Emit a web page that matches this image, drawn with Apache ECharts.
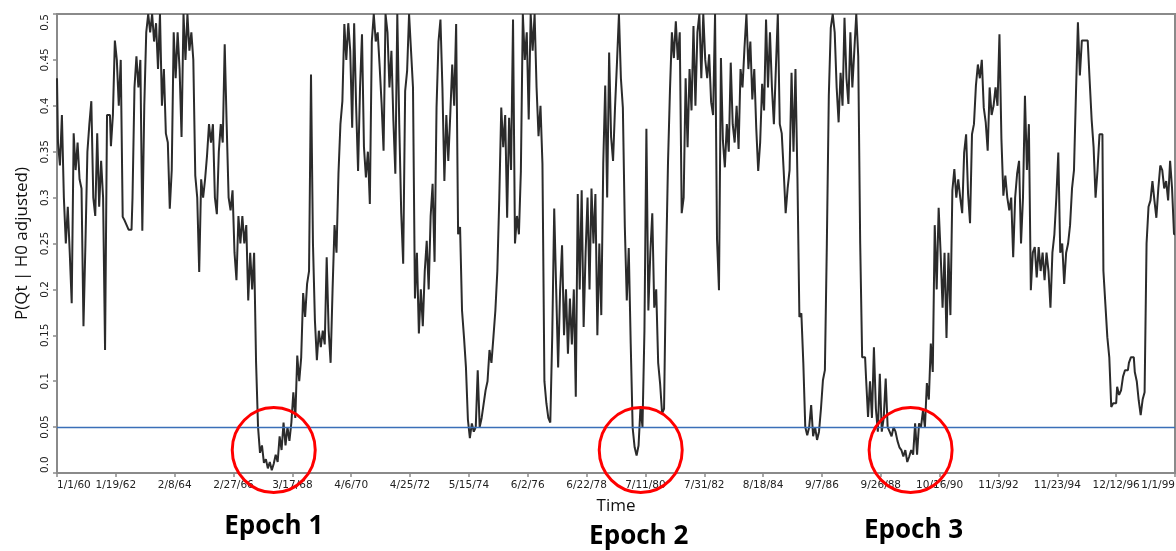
<!DOCTYPE html>
<html><head><meta charset="utf-8">
<script src="https://cdn.jsdelivr.net/npm/echarts@6/dist/echarts.min.js"></script>
<style>html,body{margin:0;padding:0;background:#fff}#c{width:1176px;height:551px}</style>
</head><body><div id="c"></div>
<script>
// ---- data ----
const xTickLabels = ['1/1/60','1/19/62','2/8/64','2/27/66','3/17/68','4/6/70','4/25/72','5/15/74','6/2/76','6/22/78',
  '7/11/80','7/31/82','8/18/84','9/7/86','9/26/88','10/16/90','11/3/92','11/23/94','12/12/96','1/1/99'];
const yTickLabels = ['0.0','0.05','0.1','0.15','0.2','0.25','0.3','0.35','0.4','0.45','0.5'];
const pointsPerTick = 30;
const pValues = [
  // 1/1/60 - 1/19/62
  0.43,0.36, 0.335,0.39, 0.30,0.25, 0.29,0.24, 0.185,0.37, 0.33,0.36, 0.32,0.31, 0.16,0.25,
  0.35,0.38, 0.405,0.30, 0.28,0.37, 0.29,0.34, 0.30,0.134, 0.39,0.39, 0.356,0.39,
  // 1/19/62 - 2/8/64
  0.471,0.45, 0.40,0.45, 0.279,0.275, 0.27,0.265, 0.265,0.30, 0.42,0.454, 0.42,0.45, 0.264,0.40,
  0.48,0.50, 0.48,0.50, 0.47,0.49, 0.44,0.50, 0.40,0.44, 0.37,0.36, 0.288,0.33,
  // 2/8/64 - 2/27/66
  0.48,0.43, 0.48,0.44, 0.366,0.50, 0.45,0.50, 0.46,0.48, 0.45,0.324, 0.30,0.219, 0.32,0.30,
  0.32,0.346, 0.38,0.36, 0.38,0.30, 0.282,0.35, 0.38,0.36, 0.467,0.38, 0.30,0.286,
  // 2/27/66 - 3/17/68
  0.308,0.24, 0.21,0.28, 0.25,0.28, 0.25,0.27, 0.188,0.24, 0.20,0.24, 0.12,0.05, 0.022,0.03,
  0.011,0.015, 0.005,0.012, 0.003,0.01, 0.02,0.012, 0.04,0.025, 0.055,0.03, 0.05,0.035,
  // 3/17/68 - 4/6/70
  0.055,0.088, 0.06,0.128, 0.10,0.126, 0.196,0.17, 0.206,0.22, 0.434,0.25, 0.166,0.123, 0.155,0.137,
  0.155,0.14, 0.235,0.155, 0.12,0.20, 0.27,0.24, 0.326,0.38, 0.405,0.489, 0.45,0.49,
  // 4/6/70 - 4/25/72
  0.46,0.376, 0.49,0.40, 0.329,0.42, 0.478,0.355, 0.322,0.35, 0.293,0.47, 0.50,0.47, 0.48,0.443,
  0.402,0.351, 0.50,0.48, 0.42,0.46, 0.384,0.326, 0.50,0.38, 0.283,0.228, 0.416,0.438,
  // 4/25/72 - 5/15/74
  0.50,0.46, 0.42,0.19, 0.24,0.152, 0.20,0.16, 0.22,0.253, 0.20,0.28, 0.315,0.23, 0.398,0.47,
  0.494,0.42, 0.318,0.39, 0.34,0.39, 0.445,0.40, 0.489,0.26, 0.268,0.177, 0.148,0.115,
  // 5/15/74 - 6/2/76
  0.058,0.038, 0.054,0.045, 0.05,0.112, 0.05,0.06, 0.075,0.09, 0.10,0.134, 0.12,0.148, 0.177,0.22,
  0.30,0.398, 0.355,0.39, 0.278,0.387, 0.33,0.494, 0.25,0.28, 0.26,0.329, 0.50,0.45,
  // 6/2/76 - 6/22/78
  0.48,0.385, 0.50,0.46, 0.50,0.42, 0.367,0.40, 0.337,0.10, 0.076,0.06, 0.055,0.15, 0.288,0.20,
  0.115,0.199, 0.248,0.15, 0.20,0.13, 0.19,0.14, 0.20,0.083, 0.304,0.20, 0.308,0.159,
  // 6/22/78 - 7/11/80
  0.24,0.30, 0.20,0.31, 0.25,0.304, 0.15,0.25, 0.172,0.337, 0.422,0.30, 0.458,0.366, 0.34,0.398,
  0.447,0.50, 0.43,0.398, 0.268,0.188, 0.245,0.141, 0.049,0.028, 0.019,0.03, 0.072,0.05,
  // 7/11/80 - 7/31/82
  0.155,0.375, 0.177,0.24, 0.283,0.18, 0.20,0.12, 0.097,0.065, 0.07,0.224, 0.337,0.416, 0.48,0.452,
  0.492,0.45, 0.48,0.283, 0.30,0.43, 0.355,0.44, 0.395,0.487, 0.40,0.48, 0.50,0.43,
  // 7/31/82 - 8/18/84
  0.50,0.45, 0.43,0.456, 0.404,0.39, 0.50,0.255, 0.199,0.452, 0.362,0.333, 0.38,0.35, 0.447,0.38,
  0.36,0.40, 0.353,0.44, 0.42,0.463, 0.50,0.44, 0.47,0.407, 0.44,0.376, 0.329,0.36,
  // 8/18/84 - 9/7/86
  0.424,0.395, 0.494,0.42, 0.48,0.42, 0.38,0.44, 0.50,0.38, 0.37,0.329, 0.283,0.31, 0.33,0.436,
  0.35,0.44, 0.322,0.17, 0.174,0.12, 0.05,0.041, 0.05,0.074, 0.04,0.05, 0.036,0.045,
  // 9/7/86 - 9/26/88
  0.07,0.101, 0.112,0.25, 0.411,0.485, 0.50,0.48, 0.42,0.382, 0.436,0.40, 0.496,0.43, 0.402,0.48,
  0.42,0.46, 0.50,0.454, 0.25,0.126, 0.126,0.103, 0.061,0.10, 0.06,0.137, 0.07,0.045,
  // 9/26/88 - 10/16/90
  0.108,0.045, 0.06,0.103, 0.05,0.045, 0.04,0.05, 0.045,0.035, 0.028,0.025, 0.018,0.025, 0.012,0.018,
  0.025,0.02, 0.054,0.02, 0.054,0.05, 0.068,0.05, 0.098,0.08, 0.141,0.11, 0.27,0.20,
  // 10/16/90 - 11/3/92
  0.289,0.24, 0.18,0.24, 0.147,0.24, 0.172,0.308, 0.331,0.30, 0.32,0.30, 0.283,0.349, 0.369,0.304,
  0.272,0.369, 0.38,0.422, 0.445,0.43, 0.45,0.398, 0.382,0.351, 0.42,0.39, 0.40,0.42,
  // 11/3/92 - 11/23/94
  0.40,0.478, 0.364,0.302, 0.324,0.30, 0.286,0.30, 0.235,0.30, 0.326,0.34, 0.25,0.30, 0.411,0.33,
  0.38,0.199, 0.24,0.246, 0.213,0.246, 0.22,0.24, 0.21,0.24, 0.22,0.18, 0.24,0.26,
  // 11/23/94 - 12/12/96
  0.30,0.349, 0.24,0.25, 0.206,0.24, 0.25,0.27, 0.31,0.33, 0.413,0.491, 0.433,0.471, 0.471,0.471,
  0.471,0.427, 0.385,0.355, 0.30,0.33, 0.369,0.369, 0.22,0.184, 0.148,0.126, 0.072,0.076,
  // 12/12/96 - 1/1/99
  0.076,0.094, 0.085,0.09, 0.105,0.112, 0.112,0.12, 0.126,0.126, 0.11,0.10, 0.079,0.063, 0.08,0.088,
  0.25,0.29, 0.297,0.318, 0.297,0.278, 0.31,0.335, 0.33,0.31, 0.318,0.297, 0.34,0.31,
  0.26
];
const threshold = 0.05;
const epochNames = ['Epoch 1','Epoch 2','Epoch 3'];
const epochCentreIndex = [110.5, 297.6, 435.2];
const epochCentreValue = [0.025, 0.025, 0.025];

// ---- chart ----
const lastIndex = (xTickLabels.length - 1) * pointsPerTick;
const labelOffsets = [[0, 77], [-2, 87], [3, 81]];
const chart = echarts.init(document.getElementById('c'), null, {renderer: 'canvas'});
const axisGrey = '#8a8a8a';
chart.setOption({
  animation: false,
  backgroundColor: '#fff',
  grid: {left: 57, right: 1, top: 14, bottom: 78, show: true, borderColor: axisGrey, borderWidth: 2,
         outerBoundsMode: 'none', containLabel: false},
  xAxis: {
    type: 'value', min: 0, max: lastIndex, interval: pointsPerTick,
    name: 'Time', nameLocation: 'middle', nameGap: 25,
    nameTextStyle: {fontFamily: 'Open Sans', fontSize: 17, color: '#111'},
    axisLine: {show: true, lineStyle: {color: axisGrey, width: 2}},
    axisTick: {show: true, length: 4, lineStyle: {color: axisGrey, width: 1.5}},
    splitLine: {show: false},
    axisLabel: {
      margin: 7, fontFamily: 'DejaVu Sans', fontSize: 10.5, color: '#222',
      alignMinLabel: 'left', alignMaxLabel: 'right', hideOverlap: false,
      formatter: v => xTickLabels[Math.round(v / pointsPerTick)] || ''
    }
  },
  yAxis: {
    type: 'value', min: 0, max: 0.5, interval: 0.05,
    name: 'P(Qt | H0 adjusted)', nameLocation: 'middle', nameGap: 26,
    nameTextStyle: {fontFamily: 'Open Sans', fontSize: 17, color: '#111'},
    axisLine: {show: true, lineStyle: {color: axisGrey, width: 2}},
    axisTick: {show: true, length: 4, lineStyle: {color: axisGrey, width: 1.5}},
    splitLine: {show: false},
    axisLabel: {
      rotate: 90, margin: 6, fontFamily: 'DejaVu Sans', fontSize: 10.5, color: '#222',
      alignMinLabel: 'left', alignMaxLabel: 'right',
      formatter: v => yTickLabels[Math.round(v / 0.05)] || ''
    }
  },
  series: [
    {
      type: 'line', step: 'middle', showSymbol: false, symbol: 'none',
      data: pValues.map((v, i) => [i, v]),
      lineStyle: {color: '#2b2b2b', width: 2},
      z: 2,
      markLine: {
        silent: true, symbol: 'none', label: {show: false},
        lineStyle: {color: '#3a6fb8', width: 1.3, type: 'solid'},
        data: [{yAxis: threshold}]
      }
    },
    {
      type: 'scatter', clip: false, z: 5, silent: true,
      symbol: 'circle', symbolSize: [83, 85],
      itemStyle: {color: 'rgba(0,0,0,0)', borderColor: '#ff0000', borderWidth: 3, opacity: 1},
      data: epochNames.map((n, k) => ({
        name: n, value: [epochCentreIndex[k], epochCentreValue[k]],
        label: {offset: labelOffsets[k]}
      })),
      label: {
        show: true, position: 'inside', formatter: p => p.name,
        fontFamily: 'Open Sans', fontWeight: 'bold', fontSize: 26, color: '#000'
      },
      emphasis: {disabled: true}
    }
  ]
});
</script></body></html>
